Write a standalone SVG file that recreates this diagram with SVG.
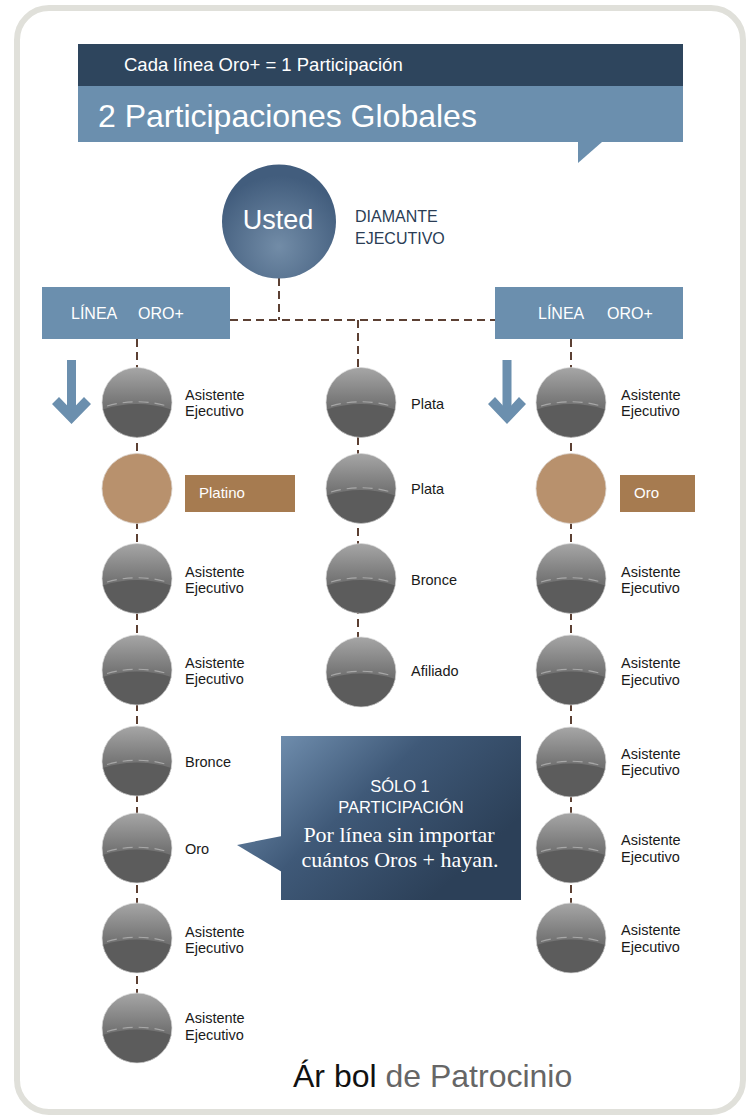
<svg xmlns="http://www.w3.org/2000/svg" xmlns:xlink="http://www.w3.org/1999/xlink" width="749" height="1118" viewBox="0 0 749 1118">
<style>
.lbl{font-family:"Liberation Sans",Arial,sans-serif;font-size:14.5px;fill:#1a1a1a}
.wt{font-family:"Liberation Sans",Arial,sans-serif;fill:#ffffff}
.dash{fill:none;stroke:#5c4033;stroke-width:2;stroke-dasharray:8 5}
.blue{fill:#6b8fae}
.tag{fill:#a67b50}
</style>
<defs>
<linearGradient id="gTop" x1="0" y1="0" x2="0" y2="1">
<stop offset="0" stop-color="#a6a6a6"/>
<stop offset="0.55" stop-color="#727272"/>
<stop offset="1" stop-color="#6a6a6a"/>
</linearGradient>
<radialGradient id="gUsted" cx="0.5" cy="0.72" r="0.62">
<stop offset="0" stop-color="#728ca7"/>
<stop offset="1" stop-color="#425d7d"/>
</radialGradient>
<linearGradient id="gCall" gradientUnits="userSpaceOnUse" x1="280" y1="736" x2="430" y2="900">
<stop offset="0" stop-color="#6f8dad"/>
<stop offset="0.45" stop-color="#3f5978"/>
<stop offset="1" stop-color="#2c4058"/>
</linearGradient>
<g id="sphere">
<circle r="35" fill="url(#gTop)"/>
<path d="M-34.3,7 Q0,-4 34.3,7 A35,35 0 0 1 -34.3,7 Z" fill="#5c5c5c"/>
<path d="M-30,3.5 Q0,-5 30,3.5" fill="none" stroke="#c8c8c8" stroke-width="1.2" stroke-dasharray="10 6" opacity="0.6"/>
<circle r="35" fill="none" stroke="#d8d8d8" stroke-width="1" opacity="0.7"/>
</g>
<g id="tan">
<circle r="35" fill="#b8916d"/>
<circle r="35" fill="none" stroke="#d8d0c8" stroke-width="1" opacity="0.8"/>
</g>
</defs>

<rect x="0" y="0" width="749" height="1118" fill="#ffffff"/>
<rect id="frame" x="17" y="8" width="726" height="1104" rx="32" fill="#ffffff" stroke="#e0e0da" stroke-width="6"/>

<g id="header">
<rect x="78" y="44" width="605" height="42" fill="#2e455d"/>
<rect x="78" y="86" width="605" height="56" fill="#6b8fae"/>
<polygon points="578,142 602,142 578,163" fill="#6b8fae"/>
<text class="wt" x="124" y="71" font-size="18.5">Cada línea Oro+ = 1 Participación</text>
<text class="wt" x="98" y="127" font-size="32">2 Participaciones Globales</text>
</g>

<g id="connectors">
<path class="dash" d="M279,278 V320"/>
<path class="dash" d="M230,320 H495"/>
<path class="dash" d="M137,339 V1028"/>
<path class="dash" d="M358,320 V672"/>
<path class="dash" d="M571,339 V938"/>
</g>

<g id="usted">
<circle cx="279" cy="221.5" r="57" fill="url(#gUsted)"/>
<text class="wt" x="278" y="229" font-size="27" text-anchor="middle">Usted</text>
<text x="355" y="222" font-family="'Liberation Sans',Arial,sans-serif" font-size="16" fill="#2a3d55">DIAMANTE</text>
<text x="355" y="244" font-family="'Liberation Sans',Arial,sans-serif" font-size="16" fill="#2a3d55">EJECUTIVO</text>
</g>

<g id="linea-left">
<rect class="blue" x="42" y="287" width="188" height="52"/>
<text class="wt" font-size="16" y="319"><tspan x="71">LÍNEA</tspan><tspan x="138">ORO+</tspan></text>
</g>
<g id="linea-right">
<rect class="blue" x="495" y="287" width="188" height="52"/>
<text class="wt" font-size="16" y="319"><tspan x="538">LÍNEA</tspan><tspan x="607">ORO+</tspan></text>
</g>

<g id="arrow-left" class="blue">
<rect x="67" y="360" width="9" height="52"/>
<polygon points="52,404 59,397 71.5,410 84,397 91,404 71.5,424"/>
</g>
<g id="arrow-right" class="blue">
<rect x="502.5" y="360" width="9" height="52"/>
<polygon points="488,404 495,397 507,410 519,397 526,404 507,424"/>
</g>

<!-- left column -->
<g id="L1"><use xlink:href="#sphere" x="137" y="402.5"/><text class="lbl" x="185" y="400">Asistente</text><text class="lbl" x="185" y="416">Ejecutivo</text></g>
<g id="L2"><use xlink:href="#tan" x="137" y="488.5"/><rect class="tag" x="185" y="475" width="110" height="37"/><text class="wt" x="199" y="498" font-size="15">Platino</text></g>
<g id="L3"><use xlink:href="#sphere" x="137" y="578.5"/><text class="lbl" x="185" y="577">Asistente</text><text class="lbl" x="185" y="593">Ejecutivo</text></g>
<g id="L4"><use xlink:href="#sphere" x="137" y="670"/><text class="lbl" x="185" y="668">Asistente</text><text class="lbl" x="185" y="684">Ejecutivo</text></g>
<g id="L5"><use xlink:href="#sphere" x="137" y="761"/><text class="lbl" x="185" y="767">Bronce</text></g>
<g id="L6"><use xlink:href="#sphere" x="137" y="848"/><text class="lbl" x="185" y="854">Oro</text></g>
<g id="L7"><use xlink:href="#sphere" x="137" y="938"/><text class="lbl" x="185" y="937">Asistente</text><text class="lbl" x="185" y="953">Ejecutivo</text></g>
<g id="L8"><use xlink:href="#sphere" x="137" y="1028"/><text class="lbl" x="185" y="1023">Asistente</text><text class="lbl" x="185" y="1040">Ejecutivo</text></g>

<!-- middle column -->
<g id="M1"><use xlink:href="#sphere" x="361" y="402.5"/><text class="lbl" x="411" y="409">Plata</text></g>
<g id="M2"><use xlink:href="#sphere" x="361" y="488.5"/><text class="lbl" x="411" y="494">Plata</text></g>
<g id="M3"><use xlink:href="#sphere" x="361" y="578.5"/><text class="lbl" x="411" y="585">Bronce</text></g>
<g id="M4"><use xlink:href="#sphere" x="361" y="672"/><text class="lbl" x="411" y="676">Afiliado</text></g>

<!-- right column -->
<g id="R1"><use xlink:href="#sphere" x="571" y="402.5"/><text class="lbl" x="621" y="400">Asistente</text><text class="lbl" x="621" y="416">Ejecutivo</text></g>
<g id="R2"><use xlink:href="#tan" x="571" y="488.5"/><rect class="tag" x="620" y="475" width="75" height="37"/><text class="wt" x="634" y="498" font-size="15">Oro</text></g>
<g id="R3"><use xlink:href="#sphere" x="571" y="578.5"/><text class="lbl" x="621" y="577">Asistente</text><text class="lbl" x="621" y="593">Ejecutivo</text></g>
<g id="R4"><use xlink:href="#sphere" x="571" y="670"/><text class="lbl" x="621" y="668">Asistente</text><text class="lbl" x="621" y="685">Ejecutivo</text></g>
<g id="R5"><use xlink:href="#sphere" x="571" y="762"/><text class="lbl" x="621" y="759">Asistente</text><text class="lbl" x="621" y="775">Ejecutivo</text></g>
<g id="R6"><use xlink:href="#sphere" x="571" y="848"/><text class="lbl" x="621" y="845">Asistente</text><text class="lbl" x="621" y="862">Ejecutivo</text></g>
<g id="R7"><use xlink:href="#sphere" x="571" y="938"/><text class="lbl" x="621" y="935">Asistente</text><text class="lbl" x="621" y="952">Ejecutivo</text></g>

<g id="callout">
<polygon points="237,845 282,836 282,872" fill="url(#gCall)"/>
<rect x="281" y="736" width="240" height="164" fill="url(#gCall)"/>
<text class="wt" x="400" y="792" font-size="16.5" text-anchor="middle">SÓLO 1</text>
<text class="wt" x="401" y="813" font-size="16.5" text-anchor="middle">PARTICIPACIÓN</text>
<text x="399" y="842" font-family="'Liberation Serif','Times New Roman',serif" font-size="22" fill="#ffffff" text-anchor="middle">Por línea sin importar</text>
<text x="400" y="867" font-family="'Liberation Serif','Times New Roman',serif" font-size="22" fill="#ffffff" text-anchor="middle">cuántos Oros + hayan.</text>
</g>

<g id="title">
<text x="293" y="1087" font-family="'Liberation Sans',Arial,sans-serif" font-size="32"><tspan fill="#111111">Ár bol</tspan><tspan fill="#666666"> de Patrocinio</tspan></text>
</g>
</svg>
